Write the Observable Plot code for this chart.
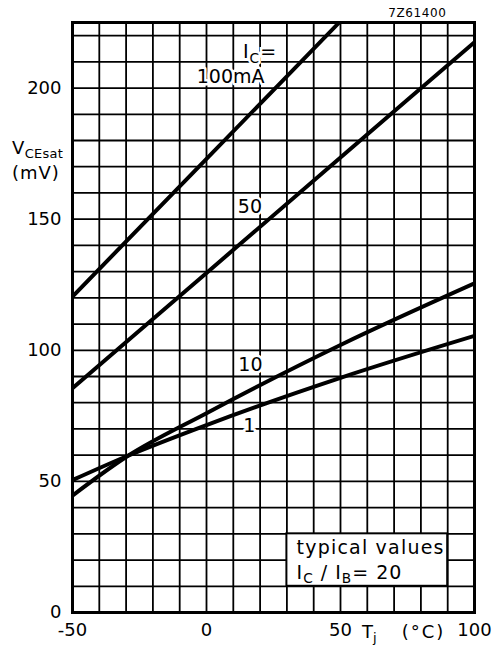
<!DOCTYPE html>
<html><head><meta charset="utf-8">
<script src="https://cdn.jsdelivr.net/npm/d3@7"></script>
<script src="https://cdn.jsdelivr.net/npm/@observablehq/plot@0.6"></script>
<style>body{margin:0;background:#fff}svg{display:block}</style>
</head><body><div id="chart"></div>
<script>
// Tj (°C) and VCEsat (mV)
const t100 = [-50, 0, 50];
const v100 = [120.5, 173, 225.5];
const t50 = [-50, 0, 50, 100];
const v50 = [85.5, 129.5, 173.5, 217.5];
const t10 = [-50, -30, 0, 50, 100];
const v10 = [44.6, 59.3, 76, 102, 125.5];
const t1 = [-50, -30, 0, 50, 100];
const v1 = [50.5, 59.5, 71.5, 89.5, 105.5];
const xTicks = [-50, 0, 50, 100];
const yTicks = [0, 50, 100, 150, 200];
const xGrid = [-50, -40, -30, -20, -10, 0, 10, 20, 30, 40, 50, 60, 70, 80, 90, 100];
const yGrid = [0, 10, 20, 30, 40, 50, 60, 70, 80, 90, 100, 110, 120, 130, 140, 150, 160, 170, 180, 190, 200, 210, 220];
const curveLabels = [
  {t: 9, v: 204.3, text: "100mA"},
  {t: 16.2, v: 154.6, text: "50"},
  {t: 16.4, v: 94.5, text: "10"},
  {t: 16, v: 71.3, text: "1"}
];
const boxRect = [{x1: 30, x2: 90, y1: 10, y2: 30}];

const series = [[t100, v100], [t50, v50], [t10, v10], [t1, v1]];
const rows = series.flatMap(([ts, vs], i) => ts.map((t, j) => ({s: i, t, v: vs[j]})));

const FONT = "DejaVu Sans";
const plot = Plot.plot({
  width: 497, height: 645,
  marginLeft: 72, marginRight: 23, marginTop: 22, marginBottom: 33,
  style: {fontFamily: FONT, background: "#fff", color: "#000"},
  x: {domain: [-50, 100], label: null},
  y: {domain: [0, 225], label: null},
  marks: [
    Plot.ruleX(xGrid, {stroke: "#000", strokeWidth: 1.8, strokeOpacity: 1}),
    Plot.ruleY(yGrid, {stroke: "#000", strokeWidth: 1.8, strokeOpacity: 1}),
    Plot.line(rows, {x: "t", y: "v", z: "s", curve: "monotone-x", stroke: "#000", strokeWidth: 4, clip: true}),
    Plot.text(curveLabels, {x: "t", y: "v", text: "text", fill: "#000", stroke: "#fff", strokeWidth: 5, fontSize: 19, letterSpacing: 0.5}),
    Plot.rect(boxRect, {x1: "x1", x2: "x2", y1: "y1", y2: "y2", fill: "#fff", stroke: "#000", strokeWidth: 2}),
    Plot.frame({stroke: "#000", strokeWidth: 3}),
    Plot.axisX(xTicks, {tickSize: 0, tickPadding: 11, fontSize: 18, label: null, tickFormat: d => String(d)}),
    Plot.axisY(yTicks, {tickSize: 0, tickPadding: 11, fontSize: 18, label: null})
  ]
});
document.getElementById("chart").appendChild(plot);

const xs = plot.scale("x"), ys = plot.scale("y");
const svg = d3.select(plot);
function rich(x, y, parts, size, opts = {}) {
  const t = svg.append("text").attr("x", x).attr("y", y)
    .attr("font-family", FONT).attr("font-size", size).attr("fill", "#000")
    .attr("text-anchor", opts.anchor || "start")
    .attr("letter-spacing", opts.ls || 0);
  if (opts.halo) t.attr("stroke", "#fff").attr("stroke-width", 5).attr("paint-order", "stroke");
  const shift = size * (opts.shift || 0.22);
  let shifted = false;
  for (const [s, sub] of parts) {
    const sp = t.append("tspan").text(s);
    if (sub) {
      sp.attr("font-size", size * 0.72);
      if (!shifted) { sp.attr("dy", shift); shifted = true; }
    } else if (shifted) { sp.attr("dy", -shift); shifted = false; }
  }
  return t;
}
// I_C = label
rich(xs.apply(13.8), ys.apply(213.8) + 7, [["I", false], ["C", true], ["=", false]], 19, {halo: true, ls: 1});
// box texts
rich(xs.apply(33.8), ys.apply(22.2), [["typical values", false]], 19, {ls: 1.2});
rich(xs.apply(33.8), ys.apply(12.6), [["I", false], ["C", true], [" / ", false], ["I", false], ["B", true], ["= 20", false]], 19, {ls: 1});
// axis titles
rich(xs.apply(-50) - 60, ys.apply(174.5), [["V", false], ["CEsat", true]], 18, {shift: 0.2, ls: 0.3});
rich(xs.apply(-50) - 60, ys.apply(165.3), [["(mV)", false]], 18, {ls: 1});
rich(xs.apply(58.2), ys.apply(0) + 26, [["T", false], ["j", true]], 18);
rich(xs.apply(73), ys.apply(0) + 26, [["(°C)", false]], 18, {ls: 2});
// figure code
rich(xs.apply(68), ys.apply(225) - 5, [["7Z61400", false]], 12, {ls: 0.6});
</script></body></html>
